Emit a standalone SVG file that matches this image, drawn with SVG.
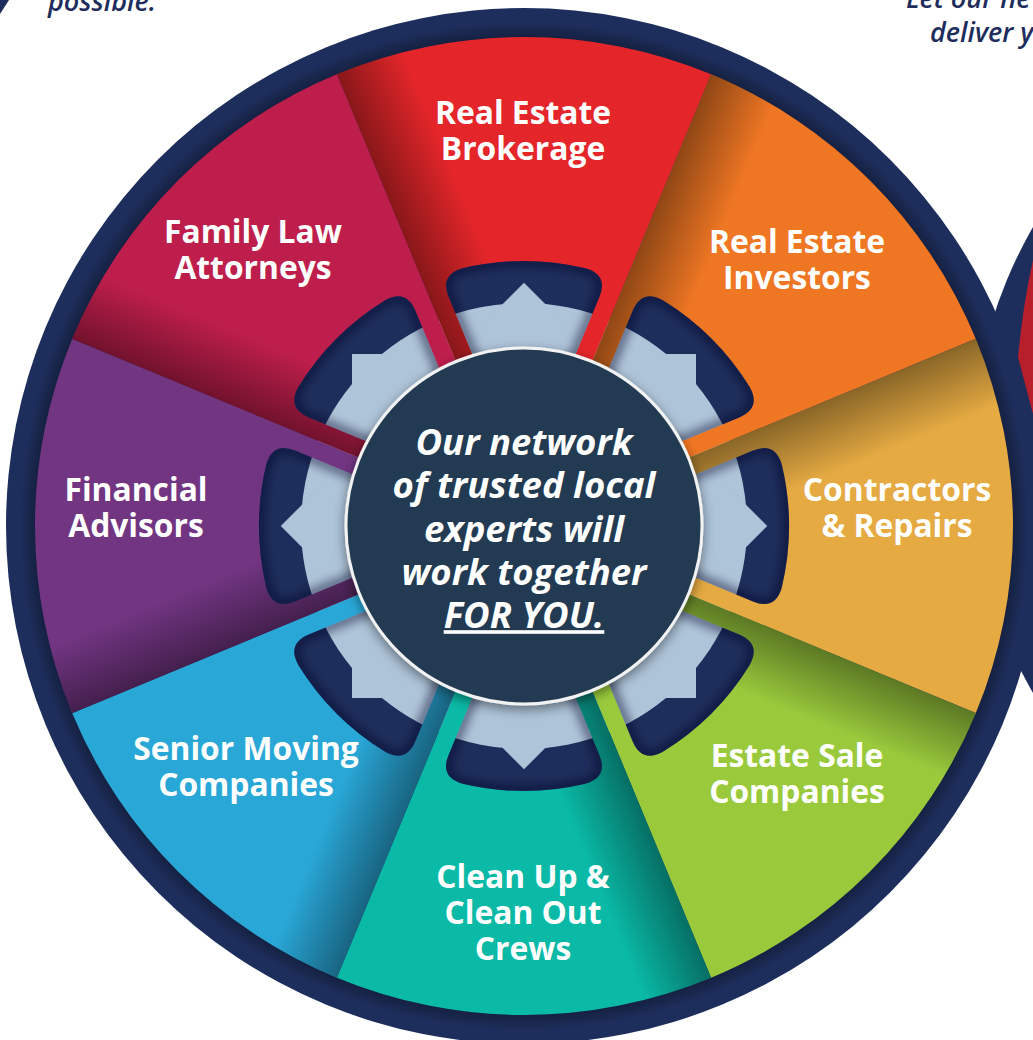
<svg xmlns="http://www.w3.org/2000/svg" xmlns:xlink="http://www.w3.org/1999/xlink" width="1033" height="1040" viewBox="0 0 1033 1040">
  <style>
    .lbl { font-family: "Open Sans", "Liberation Sans", sans-serif; font-weight: 700; font-size: 31.8px; fill: #ffffff; text-anchor: middle; }
    .ctr { font-family: "Open Sans", "Liberation Sans", sans-serif; font-weight: 700; font-style: italic; font-size: 36.5px; fill: #ffffff; text-anchor: middle; }
    .side { font-family: "Open Sans", "Liberation Sans", sans-serif; font-weight: 600; font-style: italic; font-size: 27px; fill: #1e2d5c; }
    .gear { fill: #aec4d9; }
    .hs { fill: none; stroke: #070c22; stroke-width: 12; stroke-opacity: 0.45; }
  </style>
  <defs>
    <path id="wedge" fill-rule="evenodd" d="M0,0 L-187.1,-451.8 A489,489 0 0 1 187.1,-451.8 Z M0,-47 L-75.4,-229 Q-84.56,-251.17 -61.4,-257.8 A265,265 0 0 1 61.4,-257.8 Q84.56,-251.17 75.4,-229 Z"/>
    <path id="hole" d="M0,-47 L-75.4,-229 Q-84.56,-251.17 -61.4,-257.8 A265,265 0 0 1 61.4,-257.8 Q84.56,-251.17 75.4,-229 Z"/>
    <clipPath id="holeClip" clipPathUnits="userSpaceOnUse">
      <path d="M0,-47 L-75.4,-229 Q-84.56,-251.17 -61.4,-257.8 A265,265 0 0 1 61.4,-257.8 Q84.56,-251.17 75.4,-229 Z"/>
    </clipPath>
    <linearGradient id="shade" gradientUnits="userSpaceOnUse" x1="0" y1="0" x2="64.7" y2="-26.8">
      <stop offset="0" stop-color="#000" stop-opacity="0.4"/>
      <stop offset="1" stop-color="#000" stop-opacity="0"/>
    </linearGradient>
    <radialGradient id="ringShade" gradientUnits="userSpaceOnUse" cx="524" cy="526" r="518">
      <stop offset="0.9" stop-color="#000" stop-opacity="0"/>
      <stop offset="0.942" stop-color="#000" stop-opacity="0.3"/>
      <stop offset="0.975" stop-color="#000" stop-opacity="0"/>
    </radialGradient>
    <filter id="blur" x="-30%" y="-30%" width="160%" height="160%">
      <feGaussianBlur stdDeviation="5"/>
    </filter>
    <filter id="drop" x="-20%" y="-20%" width="140%" height="140%">
      <feDropShadow dx="0" dy="4" stdDeviation="6" flood-color="#000" flood-opacity="0.45"/>
    </filter>
  </defs>

  <rect x="0" y="0" width="1033" height="1040" fill="#ffffff"/>

  <g id="side-texts">
    <polygon points="0,0 9,0 0,14" fill="#1e2d5c"/>
    <text class="side" x="48" y="11">possible.</text>
    <text class="side" x="906" y="8">Let our ne</text>
    <text class="side" x="930" y="42">deliver y</text>
  </g>

  <g id="second-wheel">
    <circle cx="1440" cy="460" r="469" fill="#1e2e5c"/>
    <path d="M1033,260 Q1023,305 1018,357 L1033,414 Z" fill="#b71f2b"/>
  </g>

  <g id="wheel-ring">
    <circle cx="524" cy="526" r="518" fill="#1e2e5c"/>
    <circle cx="524" cy="526" r="518" fill="url(#ringShade)"/>
  </g>

  <g id="gear">
    <circle class="gear" cx="524" cy="526" r="223"/>
    <rect class="gear" x="352" y="354" width="344" height="344"/>
    <rect class="gear" x="352" y="354" width="344" height="344" transform="rotate(45 524 526)"/>
  </g>

  <g id="connectors"></g>

  <g id="node-brokerage">
    <g transform="translate(524 526) rotate(0)">
      <use href="#wedge" fill="#e4262a"/>
      <use href="#wedge" fill="url(#shade)"/>
      <use href="#hole" class="hs" filter="url(#blur)" clip-path="url(#holeClip)"/>
    </g>
    <text class="lbl" x="523" y="124">Real Estate<tspan x="523" dy="36">Brokerage</tspan></text>
  </g>

  <g id="node-investors">
    <g transform="translate(524 526) rotate(45)">
      <use href="#wedge" fill="#ef7623"/>
      <use href="#wedge" fill="url(#shade)"/>
      <use href="#hole" class="hs" filter="url(#blur)" clip-path="url(#holeClip)"/>
    </g>
    <text class="lbl" x="797" y="253">Real Estate<tspan x="797" dy="36">Investors</tspan></text>
  </g>

  <g id="node-contractors">
    <g transform="translate(524 526) rotate(90)">
      <use href="#wedge" fill="#e5aa42"/>
      <use href="#wedge" fill="url(#shade)"/>
      <use href="#hole" class="hs" filter="url(#blur)" clip-path="url(#holeClip)"/>
    </g>
    <text class="lbl" x="897" y="501">Contractors<tspan x="897" dy="36">&amp; Repairs</tspan></text>
  </g>

  <g id="node-estate-sale">
    <g transform="translate(524 526) rotate(135)">
      <use href="#wedge" fill="#9aca3c"/>
      <use href="#wedge" fill="url(#shade)"/>
      <use href="#hole" class="hs" filter="url(#blur)" clip-path="url(#holeClip)"/>
    </g>
    <text class="lbl" x="797" y="767">Estate Sale<tspan x="797" dy="36">Companies</tspan></text>
  </g>

  <g id="node-clean-up">
    <g transform="translate(524 526) rotate(180)">
      <use href="#wedge" fill="#0ab9a6"/>
      <use href="#wedge" fill="url(#shade)"/>
      <use href="#hole" class="hs" filter="url(#blur)" clip-path="url(#holeClip)"/>
    </g>
    <text class="lbl" x="523" y="888">Clean Up &amp;<tspan x="523" dy="36">Clean Out</tspan><tspan x="523" dy="36">Crews</tspan></text>
  </g>

  <g id="node-senior-moving">
    <g transform="translate(524 526) rotate(225)">
      <use href="#wedge" fill="#29a7d7"/>
      <use href="#wedge" fill="url(#shade)"/>
      <use href="#hole" class="hs" filter="url(#blur)" clip-path="url(#holeClip)"/>
    </g>
    <text class="lbl" x="246" y="760">Senior Moving<tspan x="246" dy="36">Companies</tspan></text>
  </g>

  <g id="node-financial">
    <g transform="translate(524 526) rotate(270)">
      <use href="#wedge" fill="#723582"/>
      <use href="#wedge" fill="url(#shade)"/>
      <use href="#hole" class="hs" filter="url(#blur)" clip-path="url(#holeClip)"/>
    </g>
    <text class="lbl" x="136" y="501">Financial<tspan x="136" dy="36">Advisors</tspan></text>
  </g>

  <g id="node-family-law">
    <g transform="translate(524 526) rotate(315)">
      <use href="#wedge" fill="#be1e4b"/>
      <use href="#wedge" fill="url(#shade)"/>
      <use href="#hole" class="hs" filter="url(#blur)" clip-path="url(#holeClip)"/>
    </g>
    <text class="lbl" x="253" y="243">Family Law<tspan x="253" dy="36">Attorneys</tspan></text>
  </g>

  <g id="node-center">
    <circle cx="524" cy="526" r="178" fill="#243a53" stroke="#f2f2f2" stroke-width="3" filter="url(#drop)"/>
    <text class="ctr" x="524" y="455">Our network<tspan x="524" dy="43.3">of trusted local</tspan><tspan x="524" dy="43.3">experts will</tspan><tspan x="524" dy="43.3">work together</tspan><tspan x="524" dy="43.3" text-decoration="underline">FOR YOU.</tspan></text>
  </g>
</svg>
